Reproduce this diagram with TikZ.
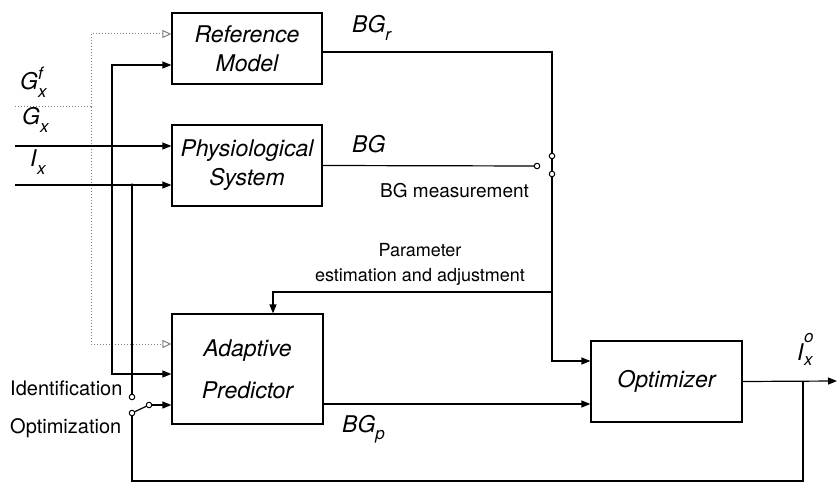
\documentclass[tikz,border=0pt]{standalone}
\usepackage{fontspec}
\setmainfont{TeX Gyre Heros}
\usetikzlibrary{arrows.meta}
\newcommand{\sublbl}[3]{\textit{#1}\rlap{\raisebox{0.45em}{\fontsize{17}{17}\selectfont\itshape #3}}\raisebox{-0.32em}{\fontsize{17}{17}\selectfont\itshape #2}}
\tikzset{
  blk/.style={draw, line width=1.2pt, rectangle, inner sep=0pt, align=center,
    font=\fontsize{23}{29}\selectfont\itshape},
  wire/.style={line width=1.2pt},
  arr/.style={wire, -{Triangle[length=9pt,width=7pt]}},
  dotline/.style={gray, dotted, line width=1pt},
  oarr/.style={dotline, -{Triangle[open,length=9pt,width=8pt]}},
  swc/.style={draw, circle, line width=1pt, inner sep=0pt, minimum size=5.5pt, fill=white},
  dot/.style={circle, fill, inner sep=0pt, minimum size=3.5pt},
  mlbl/.style={inner sep=0pt, anchor=base west, font=\fontsize{23}{27}\selectfont},
  tlbl/.style={inner sep=0pt, anchor=base west, font=\fontsize{20}{24}\selectfont},
}
\begin{document}
\begin{tikzpicture}[x=1pt,y=-1pt]
\useasboundingbox[fill=white] (0,0) rectangle (838,484);

% blocks
\node[blk, minimum width=150pt, minimum height=71pt] (ref) at (247,48.5) {Reference\\Model};
\node[blk, minimum width=150pt, minimum height=81pt] (phys) at (247,165.5) {Physiological\\System};
\node[blk, minimum width=151pt, minimum height=110pt] (adp) at (247.5,369) {Adaptive\\[13pt]Predictor};
\node[blk, minimum width=151pt, minimum height=81pt] (opt) at (666.5,381.5) {Optimizer};

% switch contacts
\node[swc] (idc) at (132,397) {};
\node[swc] (opc) at (132,413) {};
\node[swc] (arm) at (149,405) {};
\node[swc] (bgc) at (537,166) {};
\node[swc] (rs1) at (552,156) {};
\node[swc] (rs2) at (552,174) {};

% coordinates
\coordinate (gfin) at (15,107);
\coordinate (gfd) at (91,107);
\coordinate (gxin) at (15,146);
\coordinate (gxj) at (112,146);
\coordinate (ixin) at (15,185);
\coordinate (ixj) at (132,185);
\coordinate (pj) at (552,292);
\coordinate (fbj) at (803,381);
\coordinate (fbb) at (803,481);
\coordinate (outend) at (837,381);

% dotted G_x^f
\draw[dotline] (gfin) -- (gfd);
\draw[oarr] (gfd) |- ([yshift=14.5pt]ref.west);
\draw[oarr] (gfd) |- ([yshift=25pt]adp.west);

% G_x
\draw[arr] (gxin) -- ([yshift=19.5pt]phys.west);
\draw[arr] (gxj) |- ([yshift=-16.5pt]ref.west);
\draw[arr] (gxj) |- ([yshift=-5pt]adp.west);

% I_x
\draw[arr] (ixin) -- ([yshift=-19.5pt]phys.west);
\node[dot] (ixdot) at (ixj) {};
\draw[wire] (ixj) -- (idc);

% predictor switch
\draw[wire] (opc) -- (arm);
\draw[arr] (arm) -- ([yshift=-36pt]adp.west);

% reference model output and BG switch
\draw[wire] ([yshift=-3.5pt]ref.east) -| (rs1);
\draw[line width=2.2pt] (rs1) -- (rs2);
\draw[arr] (rs2) |- ([yshift=20.5pt]opt.west);
\draw[arr] (pj) -| ([xshift=25.5pt]adp.north);
\draw[wire] (phys.east) -- (bgc);

% predictor output
\draw[arr] ([yshift=-35pt]adp.east) -- ([yshift=-22.5pt]opt.west);

% optimizer output and feedback
\draw[arr] (opt.east) -- (outend);
\draw[wire] (fbj) -- (fbb) -| (opc);

% labels
\node[mlbl] (lgf) at (20,90) {\sublbl{G}{x}{f}};
\node[mlbl] (lgx) at (22,125) {\sublbl{G}{x}{}};
\node[mlbl] (lix) at (30,167) {\sublbl{I}{x}{}};
\node[mlbl] (lbgr) at (352,33) {\sublbl{BG}{r}{}};
\node[mlbl] (lbg) at (352,153) {\textit{BG}};
\node[mlbl] (lbgp) at (342,432) {\sublbl{BG}{p}{}};
\node[mlbl] (lio) at (797,360) {\textit{I}\rlap{\raisebox{0.75em}{\fontsize{17}{17}\selectfont\itshape o}}\raisebox{-0.22em}{\fontsize{17}{17}\selectfont\itshape x}};

\node[tlbl, font=\fontsize{19}{23}\selectfont] (lbgm) at (380,197) {BG measurement};
\node[inner sep=0pt, anchor=base, font=\fontsize{18}{22}\selectfont] (lpar1) at (420,256) {Parameter};
\node[inner sep=0pt, anchor=base, font=\fontsize{18}{22}\selectfont] (lpar2) at (420,281) {estimation and adjustment};
\node[tlbl] (lid) at (10,395) {Identification};
\node[tlbl] (lop) at (10,433) {Optimization};
\end{tikzpicture}
\end{document}
